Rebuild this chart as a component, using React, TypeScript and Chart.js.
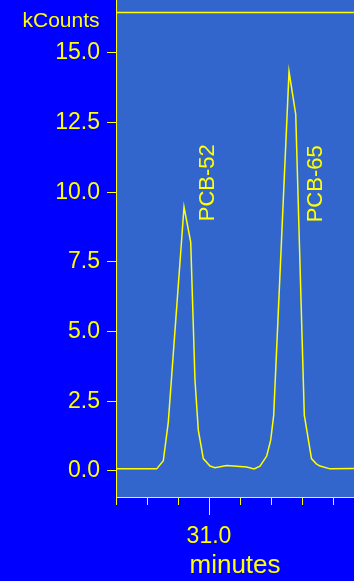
import React, { useEffect, useRef } from 'react';
import { Chart, registerables } from 'chart.js';

Chart.register(...registerables);

// Retention time (minutes) and detector response (kCounts)
const times = [
  30.7, 30.8313, 30.8526, 30.8687, 30.9194, 30.941, 30.9548, 30.9655, 30.9816,
  31.0032, 31.0194, 31.0571, 31.1216, 31.1452, 31.1645, 31.1861, 31.199,
  31.2087, 31.2581, 31.2797, 31.3074, 31.3306, 31.3461, 31.3581, 31.3903, 31.4677,
];
const kcounts = [
  0.07, 0.07, 0.36, 1.75, 9.47, 8.21, 3.25, 1.46, 0.44,
  0.17, 0.11, 0.19, 0.14, 0.07, 0.17, 0.53, 1.1,
  2.0, 14.33, 12.8, 2.0, 0.44, 0.25, 0.17, 0.07, 0.08,
];

const peakNames = ['PCB-52', 'PCB-65'];
const peakLabelTimes = [31.0161, 31.3645];
const peakLabelCounts = [8.96, 8.92];

const referenceLevel = 16.45;
const xLabelValue = 31.0;
const xStep = 0.1;
const yStep = 2.5;
const xMin = 30.7;
const xMax = 31.4677;
const yMin = -0.94;
const yMax = 16.9;

const YELLOW = '#ffff00';
const FONT = '"Liberation Sans", Arial, Helvetica, sans-serif';

export default function App() {
  const canvasRef = useRef<HTMLCanvasElement | null>(null);

  useEffect(() => {
    const canvas = canvasRef.current;
    if (!canvas) return;

    const deco = {
      id: 'deco',
      beforeDraw(chart: any) {
        const { ctx, chartArea: ca, width, height } = chart;
        ctx.save();
        ctx.fillStyle = '#0000ff';
        ctx.fillRect(0, 0, width, height);
        ctx.fillStyle = '#3366cc';
        ctx.fillRect(ca.left, ca.top, ca.right - ca.left, ca.bottom - ca.top);
        ctx.restore();
      },
      afterDraw(chart: any) {
        const { ctx } = chart;
        const x = chart.scales.x;
        const y = chart.scales.y;
        ctx.save();
        // longer major tick at the labelled time
        ctx.strokeStyle = YELLOW;
        ctx.lineWidth = 1;
        const px = Math.round(x.getPixelForValue(xLabelValue)) + 0.5;
        ctx.beginPath();
        ctx.moveTo(px, x.top + 7);
        ctx.lineTo(px, x.top + 18);
        ctx.stroke();
        // y unit label
        ctx.fillStyle = YELLOW;
        ctx.font = `21px ${FONT}`;
        ctx.textAlign = 'right';
        ctx.textBaseline = 'alphabetic';
        ctx.fillText('kCounts', y.right - 16.5, 27);
        // peak names
        ctx.font = `22px ${FONT}`;
        ctx.textAlign = 'left';
        for (let i = 0; i < peakNames.length; i++) {
          const lx = x.getPixelForValue(peakLabelTimes[i]);
          const ly = y.getPixelForValue(peakLabelCounts[i]);
          ctx.save();
          ctx.translate(lx, ly);
          ctx.rotate(-Math.PI / 2);
          ctx.fillText(peakNames[i], 0, 0);
          ctx.restore();
        }
        ctx.restore();
      },
    };

    const chart = new Chart(canvas, {
      type: 'line',
      data: {
        datasets: [
          {
            data: times.map((t, i) => ({ x: t, y: kcounts[i] })),
            borderColor: YELLOW,
            borderWidth: 1.5,
            pointRadius: 0,
            tension: 0,
            fill: false,
          },
          {
            data: [
              { x: xMin, y: referenceLevel },
              { x: xMax, y: referenceLevel },
            ],
            borderColor: YELLOW,
            borderWidth: 1.5,
            pointRadius: 0,
            fill: false,
          },
        ],
      },
      options: {
        animation: false,
        responsive: true,
        maintainAspectRatio: false,
        layout: { padding: 0 },
        plugins: {
          legend: { display: false },
          tooltip: { enabled: false },
        },
        scales: {
          x: {
            type: 'linear',
            min: xMin,
            max: xMax,
            afterFit(scale: any) {
              scale.height = 84;
              scale.paddingLeft = 0;
              scale.paddingRight = 0;
            },
            ticks: {
              stepSize: xStep,
              includeBounds: false,
              autoSkip: false,
              maxRotation: 0,
              color: YELLOW,
              font: { family: FONT, size: 23 },
              padding: 18,
              callback: (v: any) => (Math.abs(Number(v) - xLabelValue) < 1e-6 ? xLabelValue.toFixed(1) : ''),
            },
            grid: {
              drawOnChartArea: false,
              color: YELLOW,
              tickLength: 8,
              lineWidth: 1,
            },
            border: { color: YELLOW, width: 1 },
            title: {
              display: true,
              text: 'minutes',
              color: YELLOW,
              font: { family: FONT, size: 26 },
              padding: { top: 0, bottom: 0 },
            },
          },
          y: {
            type: 'linear',
            min: yMin,
            max: yMax,
            afterFit(scale: any) {
              scale.width = 116;
              scale.paddingTop = 0;
              scale.paddingBottom = 0;
            },
            ticks: {
              stepSize: yStep,
              includeBounds: false,
              color: YELLOW,
              font: { family: FONT, size: 23 },
              padding: 7,
              callback: (v: any) => Number(v).toFixed(1),
            },
            grid: {
              drawOnChartArea: false,
              color: YELLOW,
              tickLength: 9,
              lineWidth: 1,
            },
            border: { color: YELLOW, width: 1 },
          },
        },
      },
      plugins: [deco],
    });

    return () => chart.destroy();
  }, []);

  return (
    <div
      style={{
        position: 'absolute',
        left: 0,
        top: 0,
        width: 354,
        height: 581,
        background: '#0000ff',
      }}
    >
      <canvas ref={canvasRef} />
    </div>
  );
}
